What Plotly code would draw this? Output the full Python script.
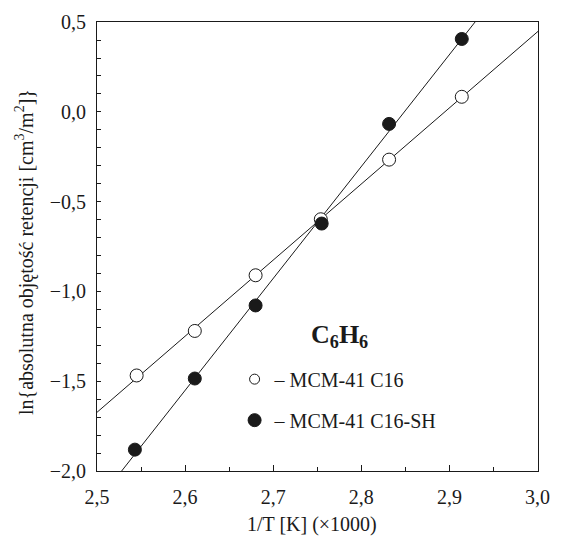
import numpy as np
import plotly.graph_objects as go

# ---- data ----
inv_T = [2.545, 2.611, 2.680, 2.754, 2.8315, 2.914]          # 1/T [K] (x1000)
ln_C16 = [-1.468, -1.220, -0.910, -0.598, -0.266, 0.084]     # MCM-41 C16 (open)
inv_T_SH = [2.543, 2.611, 2.680, 2.755, 2.8315, 2.914]
ln_C16SH = [-1.881, -1.485, -1.078, -0.622, -0.067, 0.406]   # MCM-41 C16-SH (filled)

name_C16 = "– MCM-41 C16"
name_C16SH = "– MCM-41 C16-SH"
species = "C<sub>6</sub>H<sub>6</sub>"
x_title = "1/T [K] (×1000)"
y_title = "ln{absolutna objętość retencji [cm<sup>3</sup>/m<sup>2</sup>]}"

FONT = "'Liberation Serif', 'Times New Roman', serif"
INK = "#1a1a1a"
x_range = [2.5, 3.0005]
y_range = [-2.0, 0.5005]

# regression lines from the data
fit_x = np.array([2.4, 3.1])
p1 = np.polyfit(inv_T, ln_C16, 1)
p2 = np.polyfit(inv_T_SH, ln_C16SH, 1)

fig = go.Figure()
fig.add_trace(go.Scatter(x=fit_x, y=np.polyval(p1, fit_x), mode="lines",
                         line=dict(color=INK, width=1), showlegend=False, hoverinfo="skip"))
fig.add_trace(go.Scatter(x=fit_x, y=np.polyval(p2, fit_x), mode="lines",
                         line=dict(color=INK, width=1), showlegend=False, hoverinfo="skip"))
fig.add_trace(go.Scatter(x=inv_T, y=ln_C16, mode="markers", showlegend=False,
                         marker=dict(symbol="circle", size=13, color="white",
                                     line=dict(color=INK, width=1))))
fig.add_trace(go.Scatter(x=inv_T_SH, y=ln_C16SH, mode="markers", showlegend=False,
                         marker=dict(symbol="circle", size=13, color=INK,
                                     line=dict(color=INK, width=1))))
# legend entries
fig.add_trace(go.Scatter(x=[None], y=[None], mode="markers", name=name_C16, legendgroup="a",
                         marker=dict(symbol="circle", size=10, color="white",
                                     line=dict(color=INK, width=1))))
fig.add_trace(go.Scatter(x=[None], y=[None], mode="markers", name=name_C16SH, legendgroup="b",
                         marker=dict(symbol="circle", size=13, color=INK,
                                     line=dict(color=INK, width=1))))

axis_common = dict(showline=True, linecolor=INK, linewidth=1, mirror=True,
                   ticks="inside", tickcolor=INK, showgrid=False, zeroline=False,
                   ticklabeloverflow="allow",
                   tickfont=dict(family=FONT, size=20, color=INK))

fig.update_xaxes(range=x_range, dtick=0.1, tick0=2.5, tickformat=".1f", ticklen=6,
                 ticklabelstandoff=8,
                 minor=dict(dtick=0.05, tick0=2.5, ticks="inside", ticklen=4, tickcolor=INK),
                 **axis_common)
fig.update_yaxes(range=y_range, dtick=0.5, tick0=0, tickformat=".1f", ticklen=4,
                 ticklabelstandoff=6,
                 minor=dict(dtick=0.1, tick0=0, ticks="inside", ticklen=4, tickcolor=INK),
                 **axis_common)

fig.add_annotation(text="<b>" + species + "</b>", x=0.550, y=0.300, xref="paper", yref="paper",
                   showarrow=False, font=dict(family=FONT, size=26, color=INK),
                   xanchor="center", yanchor="middle")
fig.add_annotation(text=x_title, x=0.488, y=-0.119, xref="paper", yref="paper",
                   showarrow=False, font=dict(family=FONT, size=20, color=INK),
                   xanchor="center", yanchor="middle")
fig.add_annotation(text=y_title, x=-0.163, y=0.488, xref="paper", yref="paper",
                   showarrow=False, textangle=-90, font=dict(family=FONT, size=20, color=INK),
                   xanchor="center", yanchor="middle")

fig.update_layout(
    width=561, height=544,
    margin=dict(l=97, r=11, t=18, b=73),
    plot_bgcolor="white", paper_bgcolor="white",
    separators=", ",
    font=dict(family=FONT, size=20, color=INK),
    legend=dict(x=0.312, y=0.248, xanchor="left", yanchor="top",
                bgcolor="rgba(0,0,0,0)", tracegroupgap=12,
                font=dict(family=FONT, size=20, color=INK)),
)

fig.write_html("out.html", config={"displayModeBar": False},
               post_script="document.body.style.margin='0px';document.body.style.overflow='hidden';")
